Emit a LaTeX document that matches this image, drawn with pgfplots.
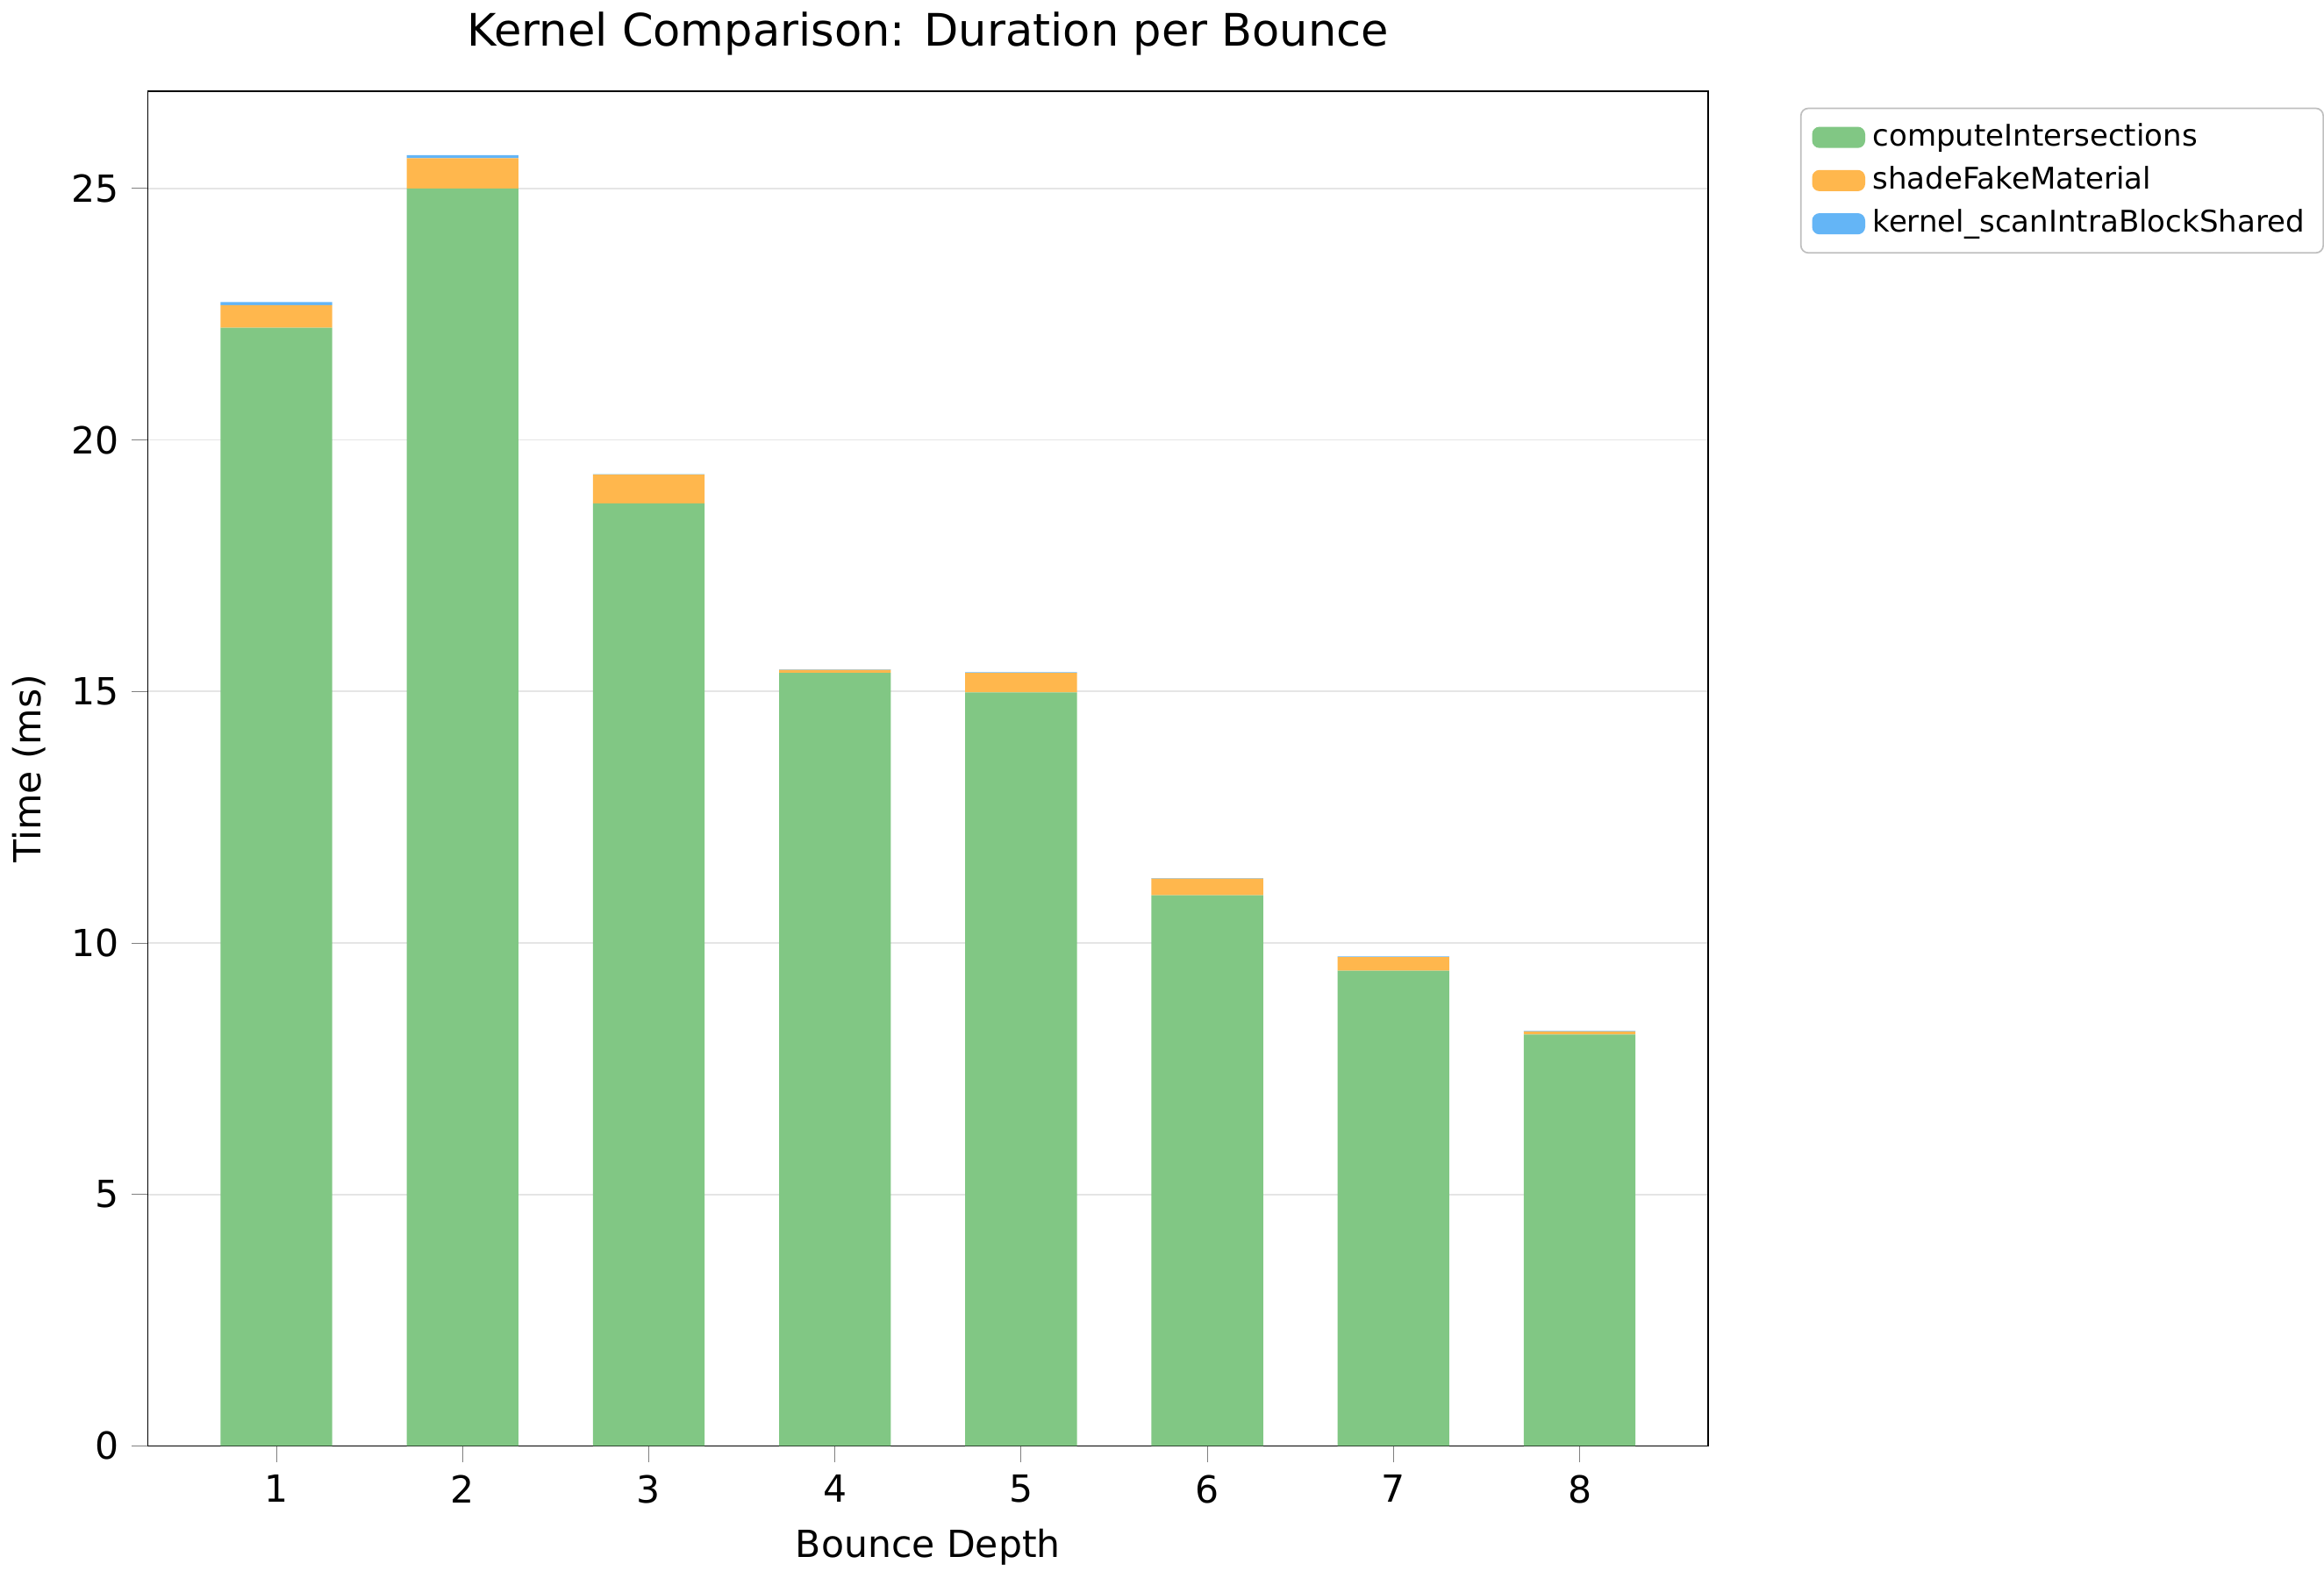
\documentclass[border=0pt]{standalone}
\usepackage{fontspec}
\setmainfont{DejaVu Sans}
\usepackage{pgfplots}
\pgfplotsset{compat=1.18}
\definecolor{cg}{HTML}{81C784}
\definecolor{co}{HTML}{FFB74D}
\definecolor{cb}{HTML}{64B5F6}
\begin{document}
\begin{tikzpicture}
\begin{axis}[
 scale only axis, width=418pt, height=363pt,
 ybar stacked, bar width=0.6,
 xmin=0.31, xmax=8.69, ymin=0, ymax=26.93,
 xtick={1,...,8}, ytick={0,5,...,25},
 tick align=outside, tick pos=left,
 ymajorgrids, grid style={gray!20},
 every tick label/.style={font=\fontsize{10}{12}\selectfont},
 /pgf/number format/assume math mode=true,
 xlabel={Bounce Depth}, ylabel={Time (ms)},
 label style={font=\fontsize{10}{12}\selectfont},
 title={Kernel Comparison: Duration per Bounce},
 title style={font=\fontsize{12}{14}\selectfont},
 legend style={at={(1.059,0.988)}, anchor=north west, font=\fontsize{8}{10}\selectfont, draw=gray!50, rounded corners=2pt, cells={anchor=west}},
 legend image code/.code={\fill[#1] (0cm,-0.1cm) rectangle (0.5cm,0.1cm);},
]
\addplot[fill=cg, draw=none] coordinates {(1,22.23)(2,25.0)(3,18.74)(4,15.37)(5,14.98)(6,10.95)(7,9.45)(8,8.18)};
\addplot[fill=co, draw=none] coordinates {(1,0.45)(2,0.6)(3,0.57)(4,0.06)(5,0.39)(6,0.33)(7,0.27)(8,0.06)};
\addplot[fill=cb, draw=none] coordinates {(1,0.06)(2,0.06)(3,0.01)(4,0.01)(5,0.01)(6,0.01)(7,0.01)(8,0.01)};
\legend{computeIntersections,shadeFakeMaterial,kernel\_scanIntraBlockShared}
\end{axis}
\end{tikzpicture}
\end{document}
